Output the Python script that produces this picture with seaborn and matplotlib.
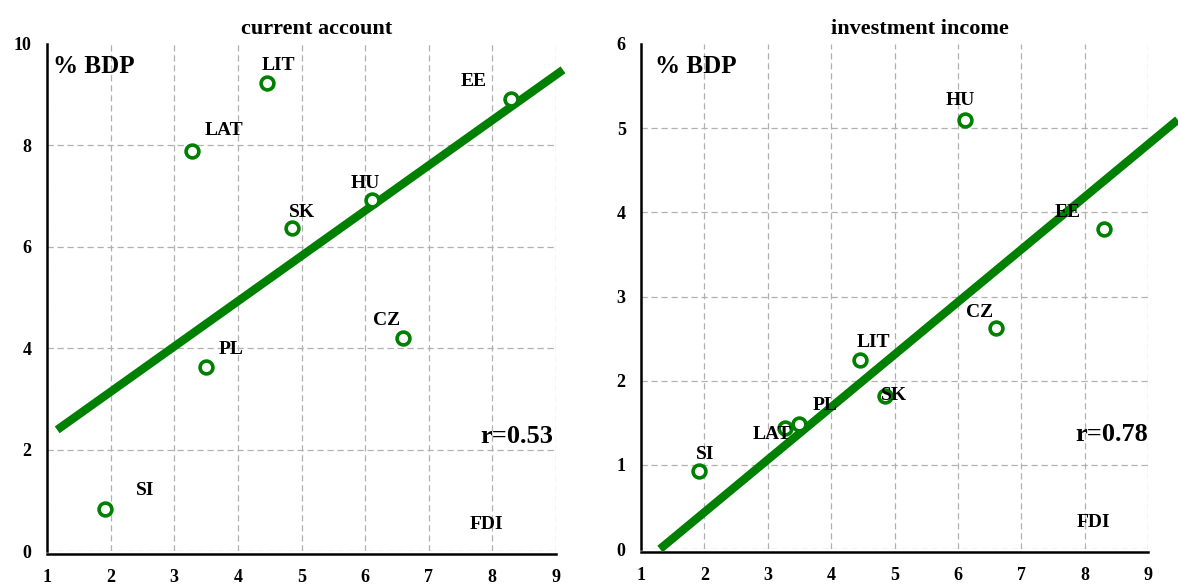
import numpy as np
import pandas as pd
import matplotlib
matplotlib.use('Agg')
import matplotlib.pyplot as plt
import matplotlib.patheffects as pe
from matplotlib import font_manager
import seaborn as sns

# Data
countries = ['LIT', 'LAT', 'EE', 'HU', 'SK', 'CZ', 'PL', 'SI']
fdi = [4.45, 3.28, 8.30, 6.11, 4.85, 6.60, 3.50, 1.91]
current_account = [9.23, 7.89, 8.92, 6.92, 6.37, 4.20, 3.63, 0.83]
investment_income = [2.24, 1.44, 3.80, 5.10, 1.82, 2.62, 1.48, 0.93]

# fitted lines (end points as drawn)
ca_fit_x = [1.16, 9.11]
ca_fit_y = [2.39, 9.49]
ii_fit_x = [1.30, 9.47]
ii_fit_y = [0.00, 5.10]

ca_r = 'r=0.53'
ii_r = 'r=0.78'

# label offsets in pixels (dx, dy), text left edge / vertical centre
ca_offsets = {'LIT': (-5, 18), 'LAT': (13, 20), 'EE': (-51, 17), 'HU': (-21, 17),
              'SK': (-3, 16), 'CZ': (-30, 18), 'PL': (13, 17), 'SI': (31, 18)}
ii_offsets = {'LIT': (-3, 18), 'LAT': (-33, -7), 'EE': (-49, 17), 'HU': (-19, 19),
              'SK': (-4, 0), 'CZ': (-30, 16), 'PL': (13, 19), 'SI': (-3, 16)}

df = pd.DataFrame({'country': countries, 'fdi': fdi,
                   'current_account': current_account,
                   'investment_income': investment_income})

sns.set_style('white')
plt.rcParams['font.family'] = ['Liberation Serif', 'DejaVu Serif']
plt.rcParams['font.weight'] = 'bold'
plt.rcParams['text.color'] = 'black'
plt.rcParams['xtick.color'] = 'black'
plt.rcParams['ytick.color'] = 'black'

# thicken text a little if no real bold face is available
bold_file = font_manager.findfont(font_manager.FontProperties(family='Liberation Serif', weight='bold'))
fx_text = [] if 'Bold' in bold_file else [pe.withStroke(linewidth=0.8, foreground='black')]

green = '#008000'

fig = plt.figure(figsize=(11.78, 5.85), dpi=100)
ax1 = fig.add_axes([47/1178, 1-551/585, 509/1178, 507/585])
ax2 = fig.add_axes([641/1178, 1-549/585, 507/1178, 505/585])

panels = [
    (ax1, 'current_account', 'current account', ca_fit_x, ca_fit_y, ca_r, ca_offsets, 10, 2, 0.53),
    (ax2, 'investment_income', 'investment income', ii_fit_x, ii_fit_y, ii_r, ii_offsets, 6, 1, 0.55),
]

for ax, col, title, fx, fy, rtxt, offs, ymax, ystep, tx in panels:
    sns.lineplot(x=fx, y=fy, ax=ax, color=green, linewidth=6, clip_on=False, zorder=3,
                 solid_capstyle='butt')
    sns.scatterplot(data=df, x='fdi', y=col, ax=ax, s=85, facecolor='white',
                    edgecolor=green, linewidth=2.6, zorder=4, clip_on=False)
    for name, x, y in zip(df['country'], df['fdi'], df[col]):
        dx, dy = offs[name]
        ax.annotate(name, (x, y), xytext=(dx, dy), textcoords='offset pixels',
                    ha='left', va='center', fontsize=14, fontweight='bold', zorder=5,
                    path_effects=fx_text)

    ax.set_xlim(1, 9)
    ax.set_ylim(0, ymax)
    ax.set_xticks(range(1, 10))
    ax.set_yticks(range(0, ymax + 1, ystep))
    ax.grid(True, color='#b0b0b0', linestyle=(0, (5, 3)), linewidth=0.9)
    ax.set_axisbelow(True)
    ax.get_ygridlines()[-1].set_visible(False)
    ax.get_xgridlines()[0].set_visible(False)
    for s in ['top', 'right']:
        ax.spines[s].set_visible(False)
    for s in ['left', 'bottom']:
        ax.spines[s].set_color('black')
        ax.spines[s].set_linewidth(1.8)
    ax.spines['bottom'].set_position(('outward', 2))
    ax.tick_params(axis='both', direction='out', length=5, width=1.3, color='black',
                   labelsize=13, pad=6, labelcolor='black')
    for lab in ax.get_xticklabels() + ax.get_yticklabels():
        lab.set_fontweight('bold')
        lab.set_path_effects(fx_text)
    ax.set_xlabel('')
    ax.set_ylabel('')

    ax.text(tx, 1.03, title, transform=ax.transAxes, ha='center', va='center',
            fontsize=16, fontweight='bold', path_effects=fx_text)
    ax.text(0.012 if ax is ax1 else 0.028, 0.955, '% BDP', transform=ax.transAxes,
            ha='left', va='center', fontsize=18, fontweight='bold', path_effects=fx_text)
    ax.text(0.994 if ax is ax1 else 1.0, 0.226, rtxt, transform=ax.transAxes,
            ha='right', va='center', fontsize=19, fontweight='bold', path_effects=fx_text)
    ax.text(0.864 if ax is ax1 else 0.893, 0.052, 'FDI', transform=ax.transAxes,
            ha='center', va='center', fontsize=14, fontweight='bold', path_effects=fx_text)

fig.savefig('out.png', dpi=100)
